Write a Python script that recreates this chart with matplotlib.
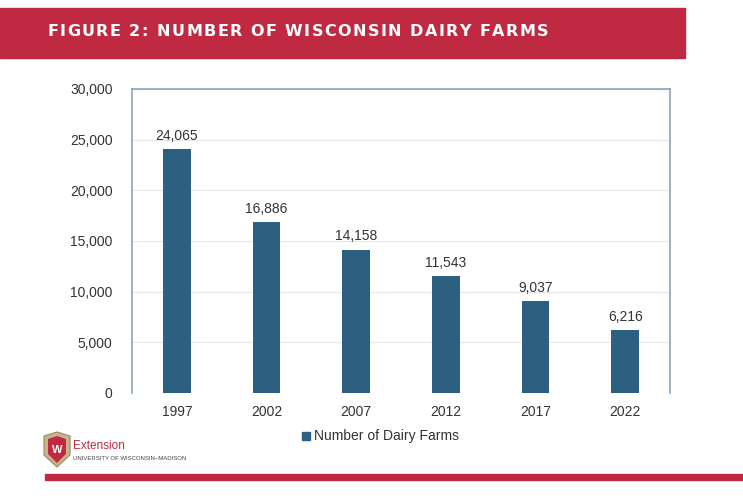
import matplotlib
matplotlib.use("Agg")
import matplotlib.pyplot as plt
from matplotlib.patches import Rectangle, Polygon

# data
years = ["1997", "2002", "2007", "2012", "2017", "2022"]
farms = [24065, 16886, 14158, 11543, 9037, 6216]
y_ticks = [0, 5000, 10000, 15000, 20000, 25000, 30000]
title = "FIGURE 2: NUMBER OF WISCONSIN DAIRY FARMS"

red = "#BF2A42"
bar_color = "#2D5F80"
text_color = "#333333"

plt.rcParams["font.family"] = ["Liberation Sans", "DejaVu Sans"]

fig = plt.figure(figsize=(7.43, 5), dpi=100)
renderer = fig.canvas.get_renderer()

# header banner
fig.patches.append(Rectangle((0, 1 - 58 / 500), 685 / 743, 50 / 500,
                             transform=fig.transFigure, color=red, zorder=0))

# title with letter spacing, drawn char by char
x_px = 47
spacing = 1.45
for ch in title:
    t = fig.text(x_px / 743, 1 - 32 / 500, ch, color="white", fontsize=11.5,
                 fontweight="bold", family="DejaVu Sans", va="center", ha="left")
    if ch == " ":
        w = t.get_window_extent(renderer).width
        w = 4.0 if w < 1 else w
    else:
        w = t.get_window_extent(renderer).width
    x_px += w + spacing

# chart
ax = fig.add_axes([132 / 743, 1 - 393 / 500, 538 / 743, 304 / 500])
x = list(range(len(years)))
ax.bar(x, farms, width=0.31, color=bar_color, zorder=3)
for xi, v in zip(x, farms):
    ax.text(xi, v + 600, f"{v:,}", ha="center", va="bottom",
            fontsize=10, color=text_color)

ax.set_xlim(-0.5, len(years) - 0.5)
ax.set_ylim(0, 30000)
ax.set_yticks(y_ticks)
ax.set_yticklabels([f"{t:,}" for t in y_ticks])
ax.set_xticks(x)
ax.set_xticklabels(years)
ax.tick_params(length=0, labelsize=10, colors=text_color)
ax.tick_params(axis="y", pad=14)
ax.tick_params(axis="x", pad=9)
ax.grid(axis="y", color="#E8E8E8", linewidth=0.9, zorder=0)
for side in ["left", "right", "top"]:
    ax.spines[side].set_color("#8AA5BC")
    ax.spines[side].set_linewidth(1.2)
ax.spines["bottom"].set_visible(False)

# legend
fig.patches.append(Rectangle((302 / 743, 1 - 440 / 500), 8 / 743, 8 / 500,
                             transform=fig.transFigure, color=bar_color))
fig.text(314 / 743, 1 - 436 / 500, "Number of Dairy Farms", fontsize=10,
         color=text_color, va="center", ha="left")

# logo
shield = [(44, 436), (57, 432), (70, 436), (70, 455), (57, 467), (44, 455)]
fig.patches.append(Polygon([(px / 743, 1 - py / 500) for px, py in shield],
                           closed=True, transform=fig.transFigure,
                           facecolor="#C9B58C", edgecolor="#9C8660", lw=0.8))
inner = [(48, 439), (57, 436), (66, 439), (66, 454), (57, 463), (48, 454)]
fig.patches.append(Polygon([(px / 743, 1 - py / 500) for px, py in inner],
                           closed=True, transform=fig.transFigure,
                           facecolor=red, edgecolor="none"))
fig.text(57 / 743, 1 - 450 / 500, "W", color="white", fontsize=8,
         fontweight="bold", ha="center", va="center")
fig.text(73 / 743, 1 - 446 / 500, "Extension", color=red, fontsize=8.5,
         ha="left", va="center")
fig.text(73 / 743, 1 - 459 / 500, "UNIVERSITY OF WISCONSIN–MADISON",
         color="#444444", fontsize=4.3, ha="left", va="center")

# bottom rule
fig.patches.append(Rectangle((45 / 743, 1 - 480 / 500), 698 / 743, 6 / 500,
                             transform=fig.transFigure, color=red))

fig.savefig("out.png", dpi=100, facecolor="white")
